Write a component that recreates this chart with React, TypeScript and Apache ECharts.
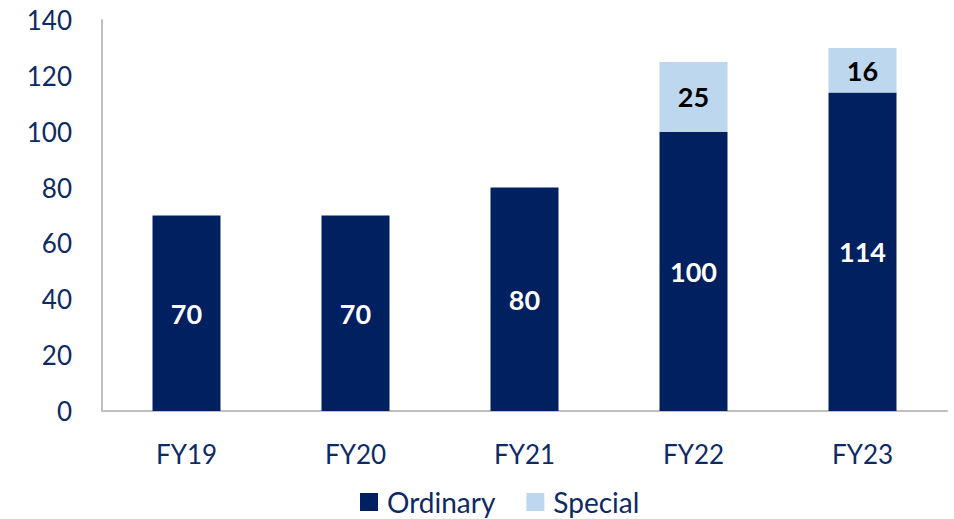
import React, { useEffect, useRef } from "react";
import * as echarts from "echarts";

const categories = ["FY19", "FY20", "FY21", "FY22", "FY23"];
const ordinary = [70, 70, 80, 100, 114];
const special: (number | null)[] = [null, null, null, 25, 16];
const yTicks = { min: 0, max: 140, interval: 20 };

const FONT = "Lato, 'Open Sans', sans-serif";
const NAVY = "#002060";
const LIGHT = "#BDD7EE";
const TEXT = "#0E2A66";

export default function App() {
  const ref = useRef<HTMLDivElement>(null);
  useEffect(() => {
    if (!ref.current) return;
    const chart = echarts.init(ref.current, undefined, { renderer: "svg" });
    chart.setOption({
      animation: false,
      textStyle: { fontFamily: FONT },
      grid: { left: 102, right: 7, top: 20, bottom: 108, containLabel: false },
      legend: {
        top: 483,
        left: 355,
        padding: 5,
        itemWidth: 18,
        itemHeight: 18,
        itemGap: 31,
        icon: "rect",
        textStyle: {
          fontFamily: FONT,
          fontSize: 28,
          lineHeight: 28,
          color: TEXT,
          padding: [0, 0, 0, 4],
        },
        data: ["Ordinary", "Special"],
      },
      xAxis: {
        type: "category",
        data: categories,
        axisLine: { lineStyle: { color: "#BFBFBF", width: 2 } },
        axisTick: { show: false },
        axisLabel: { fontFamily: FONT, fontSize: 26, color: TEXT, margin: 30 },
      },
      yAxis: {
        type: "value",
        min: yTicks.min,
        max: yTicks.max,
        interval: yTicks.interval,
        axisLine: { show: true, lineStyle: { color: "#BFBFBF", width: 2 } },
        axisTick: { show: false },
        splitLine: { show: false },
        axisLabel: { fontFamily: FONT, fontSize: 26, color: TEXT, margin: 30 },
      },
      series: [
        {
          name: "Ordinary",
          type: "bar",
          stack: "total",
          data: ordinary,
          barWidth: 68,
          itemStyle: { color: NAVY },
          label: {
            show: true,
            position: "inside",
            color: "#FFFFFF",
            fontWeight: "bold",
            fontSize: 27,
            fontFamily: FONT,
          },
        },
        {
          name: "Special",
          type: "bar",
          stack: "total",
          data: special,
          barWidth: 68,
          itemStyle: { color: LIGHT },
          label: {
            show: true,
            position: "inside",
            color: "#000000",
            fontWeight: "bold",
            fontSize: 27,
            fontFamily: FONT,
          },
        },
      ],
    });
    return () => chart.dispose();
  }, []);
  return (
    <div
      ref={ref}
      style={{ position: "fixed", left: 0, top: 0, width: 954, height: 519, background: "#fff" }}
    />
  );
}
